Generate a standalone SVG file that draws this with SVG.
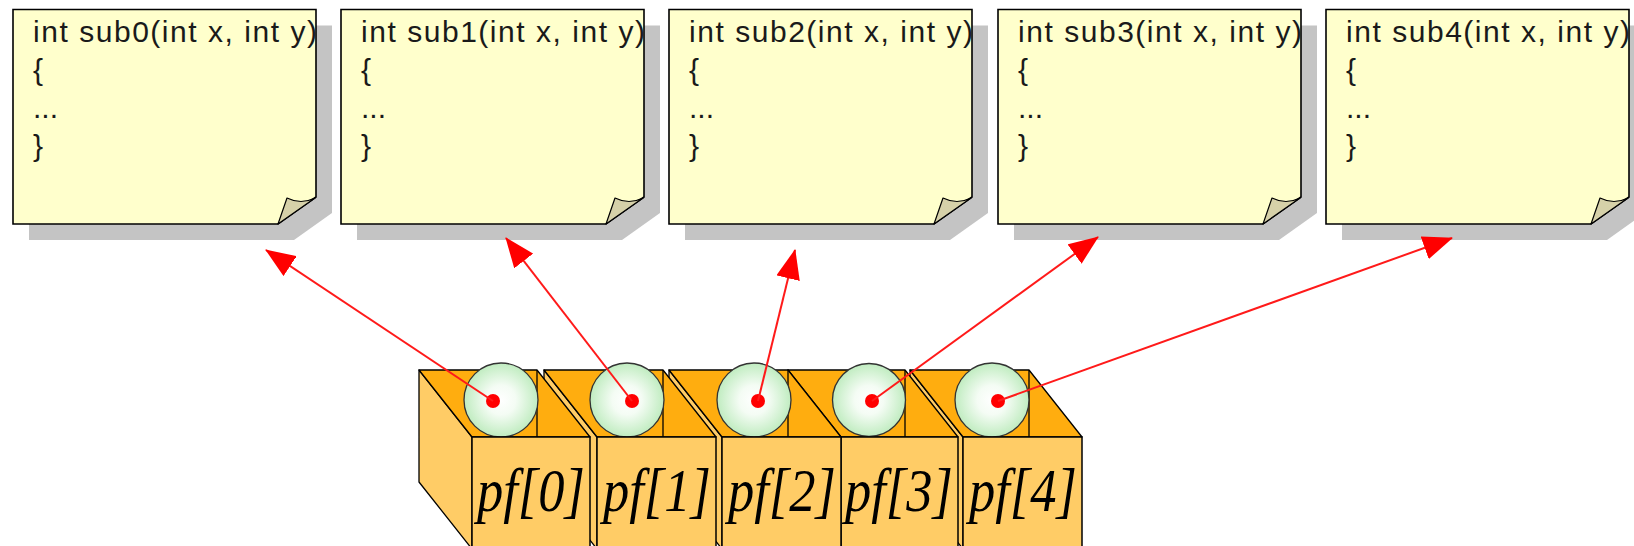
<svg xmlns="http://www.w3.org/2000/svg" width="1634" height="546" viewBox="0 0 1634 546">
<defs>
<style>
.shadow{fill:#c4c4c4;stroke:none}
.card{fill:#ffffcc;stroke:#000;stroke-width:1.6}
.fold{fill:#d6d1a9;stroke:#000;stroke-width:1.2;stroke-linejoin:round}
.code{font-family:"Liberation Sans",Arial,sans-serif;font-size:30px;fill:#1a1a1a}
.side{fill:#ffcc66;stroke:#000;stroke-width:1.3;stroke-linejoin:round}
.inner{fill:#ffad0f;stroke:#000;stroke-width:1.3;stroke-linejoin:round}
.edge{stroke:#000;stroke-width:1.3;fill:none}
.front{fill:#ffcc66;stroke:#000;stroke-width:1.5}
.ball{fill:url(#ballg);stroke:#333;stroke-width:1.3}
.dot{fill:#ff0000}
.lbl{font-family:"Liberation Serif","Times New Roman",serif;font-style:italic;font-size:62px;fill:#000}
.arrow{stroke:#ff1a1a;stroke-width:2;fill:none;marker-end:url(#ah)}
</style>
<radialGradient id="ballg" cx="0.5" cy="0.5" r="0.5">
<stop offset="0" stop-color="#ffffff"/>
<stop offset="0.4" stop-color="#f4fcf4"/>
<stop offset="1" stop-color="#c0ecc0"/>
</radialGradient>
<marker id="ah" markerUnits="userSpaceOnUse" viewBox="0 0 30 24" refX="29" refY="12" markerWidth="30" markerHeight="24" orient="auto">
<path d="M0,0 L30,12 L0,24 Z" fill="#ff0000"/>
</marker>
</defs>
<rect width="1634" height="546" fill="#ffffff"/>

<g id="card0">
<path class="shadow" d="M29,25.5 H332 V213 L294,240 H29 Z"/>
<path class="card" d="M13,9.5 H316 V197 L278,224 H13 Z"/>
<path class="fold" d="M278,224 L287,198 Q301,205 315,198 Z"/>
<text class="code" x="33" y="42" textLength="284" lengthAdjust="spacing">int sub0(int x, int y)</text>
<text class="code" x="33" y="80">{</text>
<text class="code" x="33" y="118">...</text>
<text class="code" x="33" y="156">}</text>
</g>

<g id="card1">
<path class="shadow" d="M357,25.5 H660 V213 L622,240 H357 Z"/>
<path class="card" d="M341,9.5 H644 V197 L606,224 H341 Z"/>
<path class="fold" d="M606,224 L615,198 Q629,205 643,198 Z"/>
<text class="code" x="361" y="42" textLength="284" lengthAdjust="spacing">int sub1(int x, int y)</text>
<text class="code" x="361" y="80">{</text>
<text class="code" x="361" y="118">...</text>
<text class="code" x="361" y="156">}</text>
</g>

<g id="card2">
<path class="shadow" d="M685,25.5 H988 V213 L950,240 H685 Z"/>
<path class="card" d="M669,9.5 H972 V197 L934,224 H669 Z"/>
<path class="fold" d="M934,224 L943,198 Q957,205 971,198 Z"/>
<text class="code" x="689" y="42" textLength="284" lengthAdjust="spacing">int sub2(int x, int y)</text>
<text class="code" x="689" y="80">{</text>
<text class="code" x="689" y="118">...</text>
<text class="code" x="689" y="156">}</text>
</g>

<g id="card3">
<path class="shadow" d="M1014,25.5 H1317 V213 L1279,240 H1014 Z"/>
<path class="card" d="M998,9.5 H1301 V197 L1263,224 H998 Z"/>
<path class="fold" d="M1263,224 L1272,198 Q1286,205 1300,198 Z"/>
<text class="code" x="1018" y="42" textLength="284" lengthAdjust="spacing">int sub3(int x, int y)</text>
<text class="code" x="1018" y="80">{</text>
<text class="code" x="1018" y="118">...</text>
<text class="code" x="1018" y="156">}</text>
</g>

<g id="card4">
<path class="shadow" d="M1342,25.5 H1645 V213 L1607,240 H1342 Z"/>
<path class="card" d="M1326,9.5 H1629 V197 L1591,224 H1326 Z"/>
<path class="fold" d="M1591,224 L1600,198 Q1614,205 1628,198 Z"/>
<text class="code" x="1346" y="42" textLength="284" lengthAdjust="spacing">int sub4(int x, int y)</text>
<text class="code" x="1346" y="80">{</text>
<text class="code" x="1346" y="118">...</text>
<text class="code" x="1346" y="156">}</text>
</g>

<g id="box4">
<path class="side" d="M910,370 L963,437 L963,549 L910,482 Z"/>
<path class="inner" d="M910,370 H1029 L1082,437 H963 Z"/>
<line class="edge" x1="1029" y1="370" x2="1029" y2="437"/>
<circle class="ball" cx="992" cy="400" r="37"/>
<circle class="dot" cx="998" cy="401" r="7"/>
<rect class="front" x="963" y="437" width="119" height="125"/>
<text class="lbl" x="969" y="511" textLength="108" lengthAdjust="spacingAndGlyphs">pf[4]</text>
</g>

<g id="box3">
<path class="side" d="M788,370 L841,437 L841,549 L788,482 Z"/>
<path class="inner" d="M788,370 H905 L958,437 H841 Z"/>
<line class="edge" x1="905" y1="370" x2="905" y2="437"/>
<circle class="ball" cx="869" cy="400" r="36.5"/>
<circle class="dot" cx="872" cy="401" r="7"/>
<rect class="front" x="841" y="437" width="117" height="125"/>
<text class="lbl" x="845" y="511" textLength="108" lengthAdjust="spacingAndGlyphs">pf[3]</text>
</g>

<g id="box2">
<path class="side" d="M669,370 L722,437 L722,549 L669,482 Z"/>
<path class="inner" d="M669,370 H788 L841,437 H722 Z"/>
<line class="edge" x1="788" y1="370" x2="788" y2="437"/>
<circle class="ball" cx="754" cy="400" r="37"/>
<circle class="dot" cx="758" cy="401" r="7"/>
<rect class="front" x="722" y="437" width="119" height="125"/>
<text class="lbl" x="728" y="511" textLength="108" lengthAdjust="spacingAndGlyphs">pf[2]</text>
</g>

<g id="box1">
<path class="side" d="M544,370 L597,437 L597,549 L544,482 Z"/>
<path class="inner" d="M544,370 H663 L716,437 H597 Z"/>
<line class="edge" x1="663" y1="370" x2="663" y2="437"/>
<circle class="ball" cx="627" cy="400" r="37"/>
<circle class="dot" cx="632" cy="401" r="7"/>
<rect class="front" x="597" y="437" width="119" height="125"/>
<text class="lbl" x="603" y="511" textLength="108" lengthAdjust="spacingAndGlyphs">pf[1]</text>
</g>

<g id="box0">
<path class="side" d="M419,370 L472,437 L472,549 L419,482 Z"/>
<path class="inner" d="M419,370 H537 L590,437 H472 Z"/>
<line class="edge" x1="537" y1="370" x2="537" y2="437"/>
<circle class="ball" cx="501" cy="400" r="37"/>
<circle class="dot" cx="493" cy="401" r="7"/>
<rect class="front" x="472" y="437" width="118" height="125"/>
<text class="lbl" x="477" y="511" textLength="108" lengthAdjust="spacingAndGlyphs">pf[0]</text>
</g>

<g id="connectors">
<line class="arrow" x1="493" y1="401" x2="266" y2="250"/>
<line class="arrow" x1="632" y1="401" x2="506" y2="238"/>
<line class="arrow" x1="758" y1="401" x2="795" y2="250"/>
<line class="arrow" x1="872" y1="401" x2="1098" y2="237"/>
<line class="arrow" x1="998" y1="401" x2="1452" y2="238"/>
</g>
</svg>
